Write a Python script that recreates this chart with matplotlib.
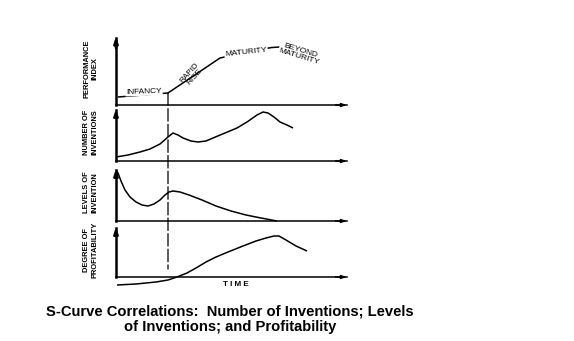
import matplotlib
matplotlib.use("Agg")
import matplotlib.pyplot as plt
from matplotlib.patches import ConnectionPatch

plt.rcParams["font.family"] = ["Liberation Sans", "DejaVu Sans"]

# ---- data: time runs 0..231 on every panel, values in panel units ----
performance_t = [2, 52, 104, 118, 132, 146, 156, 164, 172, 182, 192, 202]
performance_v = [8, 12, 47, 50, 53, 56, 57.5, 58, 57, 55, 51, 47]

inventions_t = [0, 12, 24, 34, 44, 52, 57, 62, 67, 75, 82, 90, 97, 109, 121,
                131, 141, 147, 152, 158, 164, 171, 177]
inventions_v = [4, 6, 9, 12, 17, 24, 28, 26, 23, 20, 19, 20, 23, 28, 33,
                39, 46, 49, 48, 44, 39, 36, 33]

levels_t = [0, 2, 5, 9, 14, 20, 26, 32, 38, 44, 49, 53, 57, 64, 73, 86,
            100, 115, 130, 145, 161]
levels_v = [51, 48, 40, 31, 24, 19, 16, 15, 17, 21, 26, 29, 30, 29, 26, 21,
            15, 10, 6, 3, 0]

profit_t = [1, 20, 40, 52, 61, 71, 80, 90, 100, 112, 127, 140, 150, 158,
            163, 170, 180, 191]
profit_v = [-8, -7, -5, -3, 0, 4, 9, 15, 20, 25, 31, 36, 39, 41, 41, 37,
            31, 26]

split_t = 52          # end of infancy
time_max = 231

panel_labels = ["PERFORMANCE\nINDEX", "NUMBER OF\nINVENTIONS",
                "LEVELS OF\nINVENTION", "DEGREE OF\nPROFITABILITY"]

W, H = 574, 341
fig = plt.figure(figsize=(W / 100, H / 100), dpi=100)
fig.patch.set_facecolor("white")

# panel frames in pixels: (left, top, right, baseline)
frames = [(116, 38, 347, 105), (116, 110, 347, 161),
          (116, 170, 347, 221), (116, 228, 347, 277)]
label_x = [91, 91, 91, 91]

axes = []
for (x0, top, x1, base), lab, lx in zip(frames, panel_labels, label_x):
    ax = fig.add_axes([x0 / W, 1 - base / H, (x1 - x0) / W, (base - top) / H])
    ax.set_xlim(0, time_max)
    ax.set_ylim(0, base - top)
    ax.patch.set_alpha(0)
    for s in ("top", "right"):
        ax.spines[s].set_visible(False)
    ax.spines["left"].set_linewidth(1.8)
    ax.spines["bottom"].set_linewidth(1.1)
    ax.set_xticks([])
    ax.set_yticks([])
    # arrowheads on both axes
    ax.annotate("", xy=(0, 1.02), xytext=(0, 0.85), xycoords="axes fraction",
                arrowprops=dict(arrowstyle="-|>,head_length=0.35,head_width=0.12",
                                color="black", lw=1.8, shrinkA=0, shrinkB=0))
    ax.annotate("", xy=(1.0, 0), xytext=(0.95, 0), xycoords="axes fraction",
                arrowprops=dict(arrowstyle="-|>,head_length=0.3,head_width=0.1",
                                color="black", lw=1.1, shrinkA=0, shrinkB=0))
    fig.text(lx / W, 1 - ((top + base) / 2 - 3) / H, lab, rotation=90,
             ha="center", va="center", multialignment="center",
             fontsize=5.4, fontweight="bold", linespacing=1.3)
    axes.append(ax)

ax1, ax2, ax3, ax4 = axes
curve_kw = dict(color="black", lw=1.1, clip_on=False, solid_capstyle="butt")
ax1.plot(performance_t, performance_v, **curve_kw)
ax2.plot(inventions_t, inventions_v, **curve_kw)
ax3.plot(levels_t, levels_v, **curve_kw)
ax4.plot(profit_t, profit_v, **curve_kw)

# stage names written along the performance curve
box = dict(facecolor="white", edgecolor="none", pad=0.6)
ax1.text(28, 13.5, "INFANCY", fontsize=6, ha="center", va="center",
         rotation=2, bbox=box)
ax1.text(76, 30, "RAPID\nRISE", fontsize=5.9, ha="center", va="center",
         rotation=48, linespacing=0.95)
ax1.text(130, 53, "MATURITY", fontsize=6, ha="center", va="center",
         rotation=6, bbox=box)
ax1.text(184, 51, "BEYOND\nMATURITY", fontsize=6, ha="center", va="center",
         rotation=-17, linespacing=0.9, bbox=box)

# dashed marker at the end of infancy, running down through all panels
split_v = performance_v[performance_t.index(split_t)]
con = ConnectionPatch(xyA=(split_t, split_v), coordsA=ax1.transData,
                      xyB=(split_t, 8), coordsB=ax4.transData,
                      color="black", lw=0.9, linestyle=(0, (10, 2.5)))
fig.add_artist(con)

fig.text(236 / W, 1 - 285 / H, "T I M E", ha="center", va="center",
         fontsize=5.8, fontweight="bold")

fig.text(230 / W, 1 - 319 / H,
         "S-Curve Correlations:  Number of Inventions; Levels\n"
         "of Inventions; and Profitability",
         ha="center", va="center", multialignment="center",
         fontsize=10.6, fontweight="bold", linespacing=1.1)

fig.savefig("out.png", dpi=100, facecolor="white")
